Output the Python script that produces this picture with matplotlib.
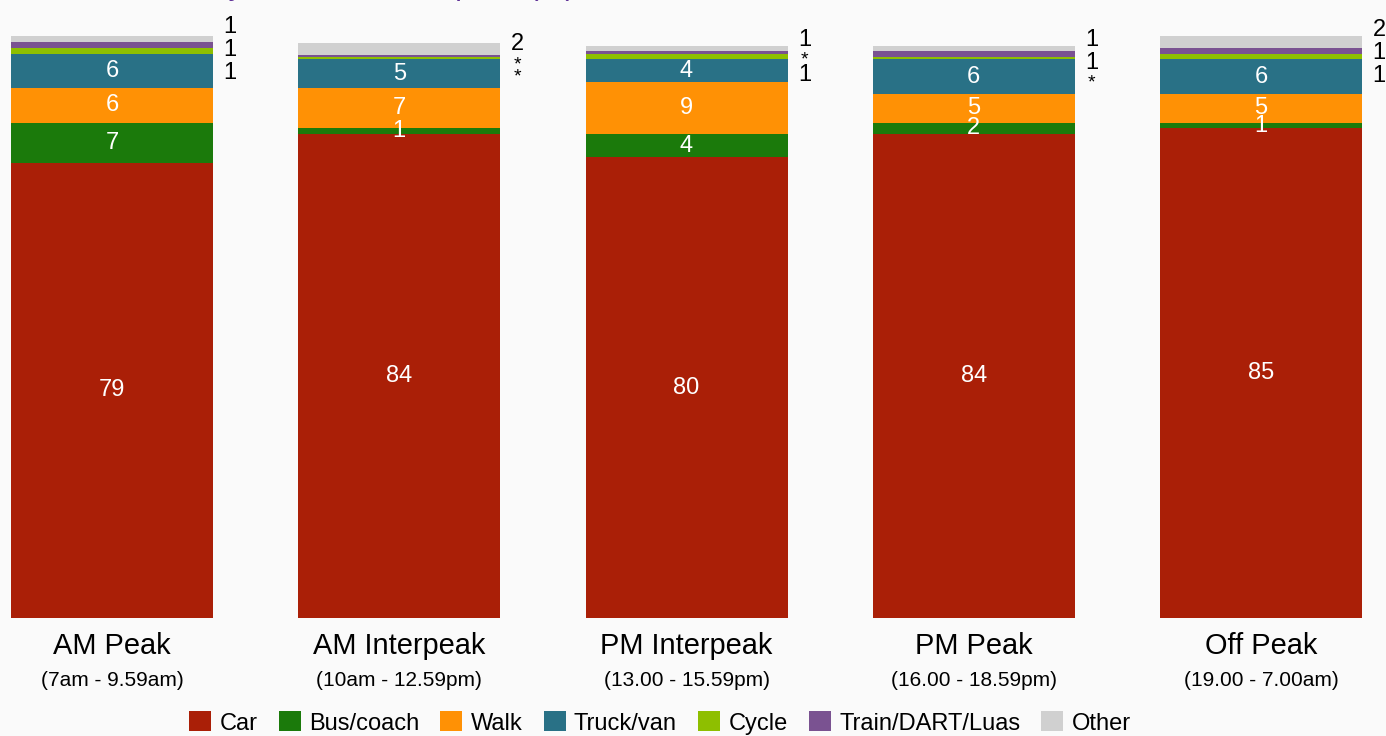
import matplotlib
matplotlib.use("Agg")
import matplotlib.pyplot as plt
from matplotlib.patches import Patch

plt.rcParams['font.family'] = ['Liberation Sans', 'DejaVu Sans']

# Share of trips by mode in each time period (%); values below 0.5 print as "*"
periods = ["AM Peak", "AM Interpeak", "PM Interpeak", "PM Peak", "Off Peak"]
period_hours = ["(7am - 9.59am)", "(10am - 12.59pm)", "(13.00 - 15.59pm)",
                "(16.00 - 18.59pm)", "(19.00 - 7.00am)"]
modes = ["Car", "Bus/coach", "Walk", "Truck/van", "Cycle", "Train/DART/Luas", "Other"]
car = [79, 84, 80, 84, 85]
bus_coach = [7, 1, 4, 2, 1]
walk = [6, 7, 9, 5, 5]
truck_van = [6, 5, 4, 6, 6]
cycle = [1, 0.4, 1, 0.4, 1]
train = [1, 0.4, 0.4, 1, 1]
other = [1, 2, 1, 1, 2]
mode_colors = ["#aa1f07", "#1b7a0b", "#ff9105", "#297186", "#8ebf00", "#7a5291", "#d0d0d0"]

series = [car, bus_coach, walk, truck_van, cycle, train, other]
inside = 4          # first four modes are labelled inside the bars
title_text = "Mode share by time relative to peak (%)"


def fmt(v):
    return "*" if v < 0.5 else f"{v:g}"


W, H, DPI = 1386, 736, 100
bg = "#fafafa"
fig = plt.figure(figsize=(W / DPI, H / DPI), dpi=DPI, facecolor=bg)
ax = fig.add_axes([0, 118 / H, 1, 618 / H])
ax.set_facecolor(bg)
ax.axis("off")

x = list(range(len(periods)))
bar_w = 0.703
ax.set_xlim(-0.390, 4.435)
ax.set_ylim(0, 107.3)

bottoms = [0.0] * len(periods)
for k, (vals, col) in enumerate(zip(series, mode_colors)):
    ax.bar(x, vals, width=bar_w, bottom=bottoms, color=col, linewidth=0)
    if k < inside:
        for i, v in enumerate(vals):
            ax.text(x[i], bottoms[i] + v / 2, fmt(v), ha="center", va="center",
                    color="white", fontsize=17)
    bottoms = [b + v for b, v in zip(bottoms, vals)]

# Small categories are listed beside each bar, stacked around their segment group
for i in x:
    base = sum(s[i] for s in series[:inside])
    top = base + sum(s[i] for s in series[inside:])
    centre = (base + top) / 2
    labels = [fmt(s[i]) for s in series[inside:]][::-1]   # top-down: Other, Train, Cycle
    heights = [12 if t == "*" else 23 for t in labels]
    total = sum(heights)
    pos = -total / 2
    for t, h in zip(labels, heights):
        cy = pos + h / 2          # pixel offset below the group centre
        pos += h
        ax.annotate(t, xy=(x[i] + bar_w / 2, centre), xycoords="data",
                    xytext=(17 * 72 / DPI, -(cy + (5 if t != "*" else 8)) * 72 / DPI),
                    textcoords="offset points",
                    ha="center", va="center", fontsize=17 if t != "*" else 14,
                    color="black")

# Period names and hours under each bar
for i in x:
    ax.annotate(periods[i], xy=(x[i], 0), xycoords=("data", "axes fraction"),
                xytext=(0, -28 * 72 / DPI), textcoords="offset points",
                ha="center", va="center", fontsize=20.9)
    ax.annotate(period_hours[i], xy=(x[i], 0), xycoords=("data", "axes fraction"),
                xytext=(0, -62 * 72 / DPI), textcoords="offset points",
                ha="center", va="center", fontsize=15)

handles = [Patch(facecolor=c, edgecolor="none") for c in mode_colors]
fig.legend(handles, modes, loc="center", bbox_to_anchor=(660 / W, 1 - 723 / H),
           ncol=len(modes), frameon=False, fontsize=17,
           handlelength=0.93, handleheight=0.93, handletextpad=0.35,
           columnspacing=0.9, borderaxespad=0, borderpad=0)

fig.text(45 / W, 1 + 4.5 / H, title_text, ha="left", va="baseline",
         fontsize=21.6, color="#5e3096")

fig.savefig("out.png", dpi=DPI, facecolor=bg)
